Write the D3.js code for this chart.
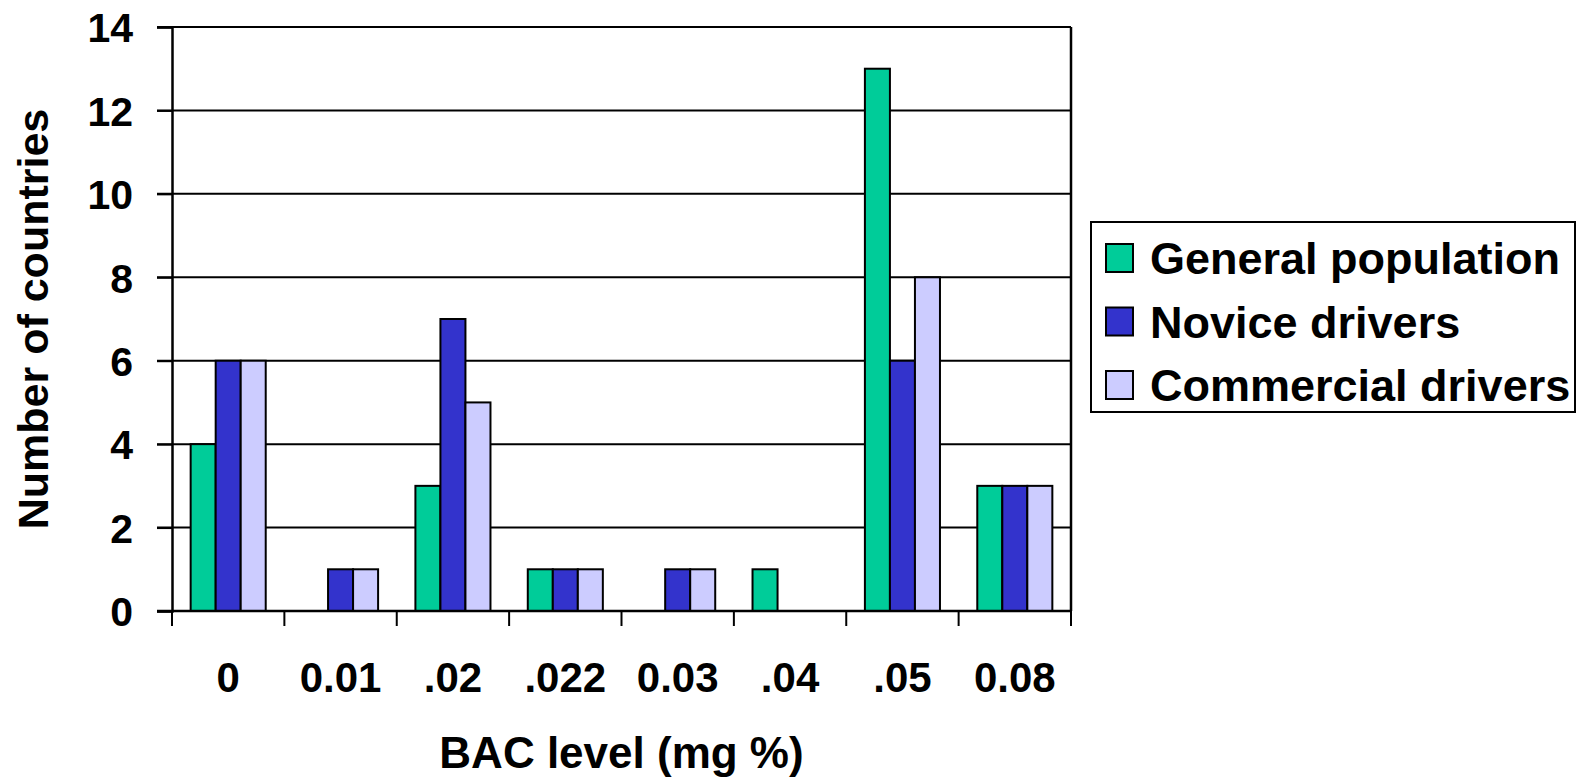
<!DOCTYPE html>
<html>
<head>
<meta charset="utf-8">
<script src="https://cdn.jsdelivr.net/npm/d3@7"></script>
<style>
  body { margin: 0; background: #fff; }
  text { font-family: "Liberation Sans", Arial, sans-serif; font-weight: bold; fill: #000; }
</style>
</head>
<body>
<div id="graphic"></div>
<script>
// data
const categories = ["0", "0.01", ".02", ".022", "0.03", ".04", ".05", "0.08"];
const seriesNames = ["General population", "Novice drivers", "Commercial drivers"];
const generalPop = [4, 0, 3, 1, 0, 1, 13, 3];
const noviceDrivers = [6, 1, 7, 1, 1, 0, 6, 3];
const commercialDrivers = [6, 1, 5, 1, 1, 0, 8, 3];
const yTicks = [0, 2, 4, 6, 8, 10, 12, 14];
const colors = ["#00CC99", "#3333CC", "#CCCCFF"];

const width = 1577, height = 782;
const margin = {left: 172, right: 506, top: 27, bottom: 171};
const plotWidth = width - margin.left - margin.right;
const plotHeight = height - margin.top - margin.bottom;

const svg = d3.select("#graphic")
  .append("svg")
  .attr("width", width)
  .attr("height", height);

const plot = svg.append("g")
  .attr("transform", "translate(" + margin.left + "," + margin.top + ")");

const x = d3.scaleBand()
  .domain(categories)
  .range([0, plotWidth])
  .paddingInner(0.332)
  .paddingOuter(0.166);

const xSub = d3.scaleBand()
  .domain(seriesNames)
  .range([0, x.bandwidth()]);

const y = d3.scaleLinear()
  .domain([0, 14])
  .range([plotHeight, 0]);

// gridlines
plot.append("g")
  .selectAll("line")
  .data(yTicks)
  .join("line")
  .attr("x1", -15)
  .attr("x2", plotWidth)
  .attr("y1", d => y(d))
  .attr("y2", d => y(d))
  .attr("stroke", "#000")
  .attr("stroke-width", 2);

// bars
const rows = categories.map((c, i) => ({
  cat: c,
  vals: [generalPop[i], noviceDrivers[i], commercialDrivers[i]]
}));

plot.append("g")
  .selectAll("g")
  .data(rows)
  .join("g")
  .attr("transform", d => "translate(" + x(d.cat) + ",0)")
  .selectAll("rect")
  .data(d => d.vals.map((v, j) => ({name: seriesNames[j], v: v, j: j})).filter(e => e.v > 0))
  .join("rect")
  .attr("x", d => xSub(d.name))
  .attr("y", d => y(d.v))
  .attr("width", xSub.bandwidth())
  .attr("height", d => y(0) - y(d.v))
  .attr("fill", d => colors[d.j])
  .attr("stroke", "#000")
  .attr("stroke-width", 2);

// y axis
const yAxis = plot.append("g")
  .call(d3.axisLeft(y).tickValues(yTicks).tickSize(15).tickPadding(24));
yAxis.select(".domain").attr("stroke", "#000").attr("stroke-width", 2.5);
yAxis.selectAll(".tick line").attr("stroke-width", 2);
yAxis.selectAll("text")
  .attr("font-size", 41)
  .attr("font-family", null)
  .attr("dy", "0.36em");

// x axis: ticks on category boundaries
const bounds = d3.range(categories.length + 1).map(i => i * x.step());
plot.append("line")
  .attr("x1", -15).attr("x2", plotWidth)
  .attr("y1", plotHeight).attr("y2", plotHeight)
  .attr("stroke", "#000").attr("stroke-width", 2.5);
plot.append("g")
  .selectAll("line")
  .data(bounds)
  .join("line")
  .attr("x1", d => d).attr("x2", d => d)
  .attr("y1", plotHeight).attr("y2", plotHeight + 15)
  .attr("stroke", "#000").attr("stroke-width", 2);

// right frame
plot.append("line")
  .attr("x1", plotWidth).attr("x2", plotWidth)
  .attr("y1", 0).attr("y2", plotHeight)
  .attr("stroke", "#000").attr("stroke-width", 2.5);

plot.append("g")
  .selectAll("text")
  .data(categories)
  .join("text")
  .attr("x", d => x(d) + x.bandwidth() / 2)
  .attr("y", plotHeight + 81)
  .attr("text-anchor", "middle")
  .attr("font-size", 42)
  .text(d => d);

// axis titles
svg.append("text")
  .attr("x", margin.left + plotWidth / 2)
  .attr("y", 768)
  .attr("text-anchor", "middle")
  .attr("font-size", 44)
  .text("BAC level (mg %)");

svg.append("text")
  .attr("transform", "translate(48," + (margin.top + plotHeight / 2) + ") rotate(-90)")
  .attr("text-anchor", "middle")
  .attr("font-size", 43)
  .text("Number of countries");

// legend
const legend = svg.append("g").attr("transform", "translate(1091,222)");
legend.append("rect")
  .attr("width", 484)
  .attr("height", 190)
  .attr("fill", "#fff")
  .attr("stroke", "#000")
  .attr("stroke-width", 2);

const item = legend.selectAll("g.item")
  .data(seriesNames)
  .join("g")
  .attr("class", "item")
  .attr("transform", (d, i) => "translate(0," + (36 + i * 63.5) + ")");
item.append("rect")
  .attr("x", 15)
  .attr("y", -14)
  .attr("width", 27)
  .attr("height", 28)
  .attr("fill", (d, i) => colors[i])
  .attr("stroke", "#000")
  .attr("stroke-width", 2);
item.append("text")
  .attr("x", 59)
  .attr("dy", "0.36em")
  .attr("font-size", 45)
  .text(d => d);
</script>
</body>
</html>
